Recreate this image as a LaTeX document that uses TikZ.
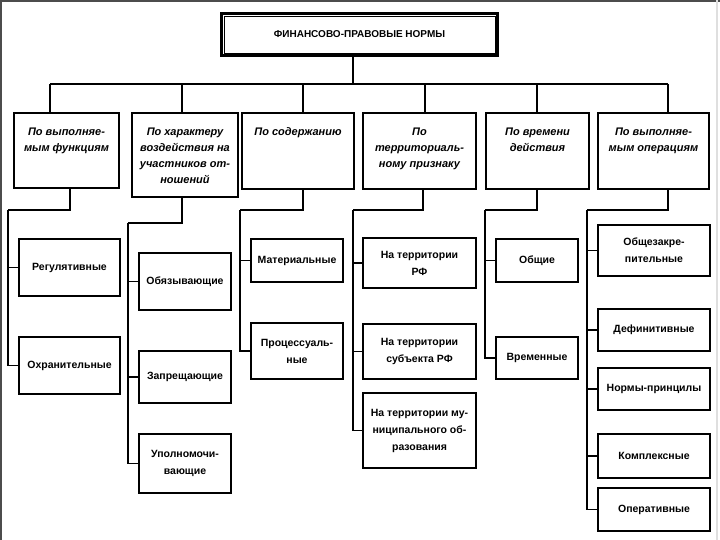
\documentclass[tikz,border=0pt]{standalone}
\usepackage{fontspec}
\setmainfont{Liberation Sans}

\def\cattop{15pt}

\begin{document}
\begin{tikzpicture}[x=1pt,y=-1pt,line width=1.4pt]
    \tikzstyle{box}=[draw, line width=2pt, inner sep=0pt, anchor=north west]
    \tikzstyle{head box}=[box, line width=3pt, font=\bfseries\fontsize{10}{12}\selectfont]
    \tikzstyle{cat box}=[box, font=\bfseries\itshape\fontsize{11}{16}\selectfont]
    \tikzstyle{leaf box}=[box, align=center, font=\bfseries\fontsize{10.5}{17}\selectfont]

    \useasboundingbox (0,0) rectangle (720,540);

    % Frame of the slide
    \draw[gray!60!black, line width=2.5pt] (0,1) -- (720,1);
    \draw[gray!60!black, line width=2.5pt] (1,0) -- (1,540);
    \draw[gray!25, line width=2pt] (717,0) -- (717,540);

    % Draw the header node
    \node[head box, minimum width=276pt, minimum height=42pt] (H) at (220,12) {ФИНАНСОВО-ПРАВОВЫЕ НОРМЫ};
    \draw[line width=0.8pt] ([shift={(4,4)}]H.north west) rectangle ([shift={(-4,-4)}]H.south east);

    % Draw the category nodes
    \foreach \i/\x/\w/\h/\txt in {1/13/105/75/{По выполняе-\\мым функциям},
                                  2/131/106/84/{По характеру\\воздействия на\\участников от-\\ношений},
                                  3/241/112/76/{По содержанию},
                                  4/362/113/76/{По\\территориаль-\\ному признаку},
                                  5/485/103/76/{По времени\\действия},
                                  6/597/111/76/{По выполняе-\\мым операциям}}
        \node[cat box, minimum width=\w pt, minimum height=\h pt] (C-\i) at (\x,112)
            {\parbox[c][\h pt][t]{\w pt}{\centering\vspace*{\cattop}\txt}};

    % Draw the kinds of norms
    \foreach \name/\x/\y/\w/\h/\txt in {R-1/18/238/101/57/{Регулятивные},
                                        R-2/18/336/101/57/{Охранительные},
                                        B-1/138/252/92/57/{Обязывающие},
                                        B-2/138/350/92/52/{Запрещающие},
                                        B-3/138/433/92/59/{Уполномочи-\\вающие},
                                        S-1/250/238/92/43/{Материальные},
                                        S-2/250/322/92/56/{Процессуаль-\\ные},
                                        T-1/362/237/113/50/{На территории\\РФ},
                                        T-2/362/323/113/55/{На территории\\субъекта РФ},
                                        T-3/362/392/113/75/{На территории му-\\ниципального об-\\разования},
                                        V-1/495/238/82/43/{Общие},
                                        V-2/495/336/82/42/{Временные},
                                        O-1/597/224/112/51/{Общезакре-\\пительные},
                                        O-2/597/308/112/42/{Дефинитивные},
                                        O-3/597/367/112/42/{Нормы-принцилы},
                                        O-4/597/433/112/44/{Комплексные},
                                        O-5/597/487/112/43/{Оперативные}}
        \node[leaf box, minimum width=\w pt, minimum height=\h pt] (\name) at (\x,\y) {\txt};

    % Connect the header with every category
    \coordinate (bus) at (353,84);
    \draw (H.south -| bus) -- (bus);
    \foreach \i/\dx in {1/50,2/182,3/303,4/425,5/537,6/668} {
        \coordinate (D-\i) at (\dx,84);
        \draw (D-\i) -- (C-\i.north -| D-\i);
    }
    \draw (D-1) -- (D-6);

    % Lead every category down to its spine
    \foreach \i/\sx/\jx/\y in {1/70/8/210,2/182/128/223,3/303/240/210,
                               4/423/353/210,5/537/485/210,6/668/587/210} {
        \coordinate (K-\i) at (\sx,\y);
        \coordinate (J-\i) at (\jx,\y);
        \draw (C-\i.south -| K-\i) -- (K-\i) -- (J-\i);
    }

    % Connect every spine with its kinds
    \foreach \g/\leaf in {1/R-1,1/R-2,2/B-1,2/B-2,2/B-3,3/S-1,3/S-2,
                          4/T-1,4/T-2,4/T-3,5/V-1,5/V-2,
                          6/O-1,6/O-2,6/O-3,6/O-4,6/O-5}
        \draw (J-\g) |- (\leaf.west);
\end{tikzpicture}
\end{document}
